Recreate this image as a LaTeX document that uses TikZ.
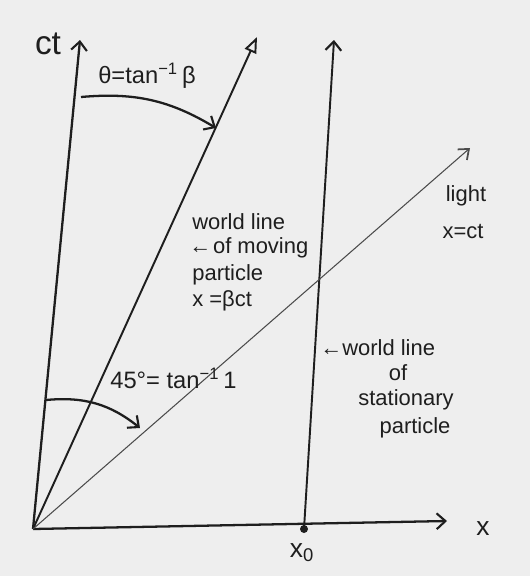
\documentclass[tikz,border=0pt]{standalone}
\usepackage{fontspec}
\setmainfont{Liberation Sans}
\usetikzlibrary{arrows.meta}
\definecolor{paper}{HTML}{EEEEEE}
\definecolor{ink}{HTML}{1E1E1E}
\begin{document}
\begin{tikzpicture}[x=0.02cm,y=-0.02cm,
  axis/.style={draw=ink,line width=1.3pt,-{Straight Barb[length=5pt,width=9pt,line width=1.2pt]}},
  thinline/.style={draw=ink!80,line width=0.6pt,-{Straight Barb[length=5pt,width=8pt,line width=1pt]}},
  arcarrow/.style={draw=ink,line width=1.3pt,-{Straight Barb[length=5pt,width=9pt,line width=1.2pt]}},
  lbl/.style={text=ink,inner sep=0pt,font=\fontsize{12.5}{15}\selectfont},
  big/.style={text=ink,inner sep=0pt,font=\fontsize{13.5}{16}\selectfont}]
\fill[paper] (0,0) rectangle (530,576);
\useasboundingbox (0,0) rectangle (530,576);
% points
\coordinate (O) at (33,529);
\coordinate (ctTop) at (80,40);
\coordinate (movTop) at (257,37);
\coordinate (x0) at (304,529);
\coordinate (statTop) at (334,40);
\coordinate (lightTop) at (470,148);
\coordinate (xEnd) at (447,521);
\coordinate (a1) at (81,97);
\coordinate (a2) at (216,128);
\coordinate (b1) at (46,400);
\coordinate (b2) at (140,428);
% axes and world lines
\draw[axis] (O) -- (ctTop);
\draw[axis] (O) -- (xEnd);
\draw[draw=ink,line width=1.1pt,-{Triangle[open,length=9pt,width=7pt,line width=1.1pt]}] (O) -- (movTop);
\draw[axis,line width=1.1pt] (x0) -- (statTop);
\draw[thinline] (O) -- (lightTop);
\fill[ink] (x0) circle (4);
% angle arcs
\draw[arcarrow] (a1) to[bend left=18] (a2);
\draw[arcarrow] (b1) to[bend left=22] (b2);
% labels
\node[text=ink,inner sep=0pt,font=\fontsize{19}{20}\selectfont] (ct) at (48,44) {ct};
\node[big] (theta) at (147,76) {θ=tan\textsuperscript{−1}\,β};
\node[big,anchor=west] (fortyfive) at (110,378) {45°= tan\textsuperscript{−1}\,1};
\node[lbl,anchor=west] (wl1) at (192,222) {world line};
\node[lbl,anchor=west] (wl2) at (189,248) {←\hspace{1pt}of moving};
\node[lbl,anchor=west] (wl3) at (192,275) {particle};
\node[lbl,anchor=west] (wl4) at (192,301) {x =βct};
\node[lbl] (light) at (466,196) {light};
\node[lbl] (lighteq) at (463,232) {x=ct};
\node[lbl,anchor=west] (sl1) at (320,348) {←world line};
\node[lbl] (sl2) at (398,373) {of};
\node[lbl] (sl3) at (406,400) {stationary};
\node[lbl] (sl4) at (415,428) {particle};
\node[lbl,font=\fontsize{15}{16}\selectfont] (x0lbl) at (302,553) {x\textsubscript{0}};
\node[lbl,font=\fontsize{15}{16}\selectfont] (xlbl) at (483,529) {x};
\end{tikzpicture}
\end{document}
